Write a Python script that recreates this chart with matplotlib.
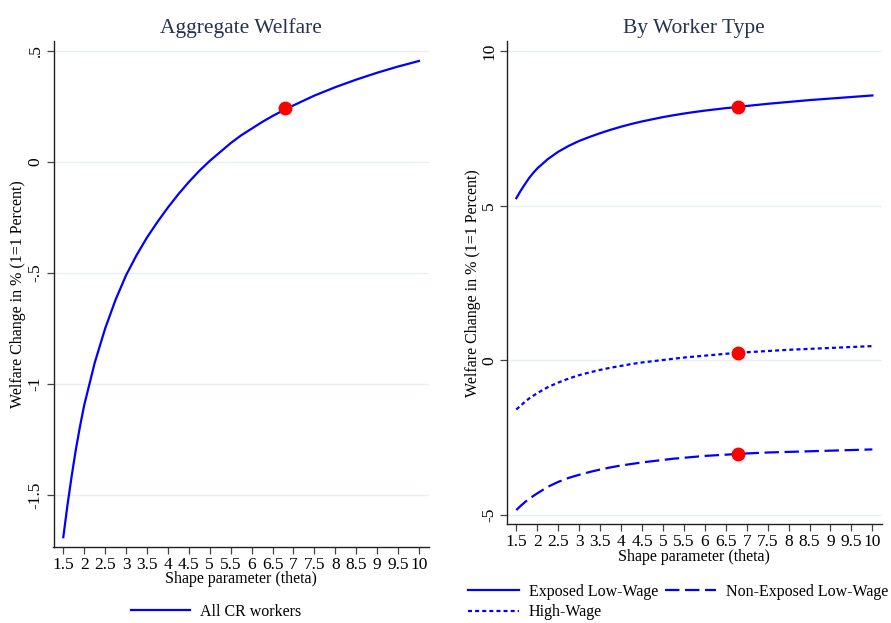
import matplotlib
matplotlib.use("Agg")
import matplotlib.pyplot as plt
from matplotlib.lines import Line2D

plt.rcParams['font.family'] = ['Liberation Serif', 'DejaVu Serif']

# Shape parameter grid (x values read at regular steps)
theta = [1.5, 1.6, 1.7, 1.8, 1.9, 2.0, 2.25, 2.5, 2.75, 3.0, 3.25, 3.5, 3.75,
         4.0, 4.25, 4.5, 4.75, 5.0, 5.25, 5.5, 5.75, 6.0, 6.25, 6.5, 6.75,
         7.0, 7.5, 8.0, 8.5, 9.0, 9.5, 10.0]

# Aggregate welfare (All CR workers)
agg = [-1.69, -1.545, -1.415, -1.295, -1.19, -1.095, -0.905, -0.75, -0.62,
       -0.51, -0.42, -0.34, -0.27, -0.205, -0.145, -0.09, -0.04, 0.005, 0.045,
       0.085, 0.12, 0.15, 0.18, 0.207, 0.232, 0.255, 0.299, 0.337, 0.371,
       0.402, 0.43, 0.455]

# By worker type
exposed = [5.24, 5.47, 5.68, 5.88, 6.05, 6.20, 6.50, 6.74, 6.93, 7.09, 7.22,
           7.34, 7.45, 7.55, 7.64, 7.72, 7.79, 7.86, 7.92, 7.975, 8.025, 8.07,
           8.11, 8.15, 8.18, 8.22, 8.29, 8.35, 8.41, 8.46, 8.51, 8.56]
non_exposed = [-4.84, -4.71, -4.59, -4.48, -4.39, -4.30, -4.09, -3.93, -3.80,
               -3.70, -3.61, -3.53, -3.46, -3.40, -3.35, -3.30, -3.26, -3.22,
               -3.18, -3.15, -3.12, -3.09, -3.07, -3.05, -3.03, -3.01, -2.98,
               -2.96, -2.94, -2.92, -2.90, -2.88]
high_wage = [-1.59, -1.47, -1.35, -1.24, -1.15, -1.06, -0.87, -0.72, -0.59,
             -0.48, -0.39, -0.31, -0.24, -0.18, -0.12, -0.07, -0.03, 0.01,
             0.05, 0.09, 0.12, 0.15, 0.18, 0.21, 0.24, 0.26, 0.30, 0.34, 0.37,
             0.40, 0.43, 0.46]

# Baseline markers
base_theta = 6.8
base_agg = 0.243
base_types = [8.18, 0.25, -3.04]

xticks = [1.5, 2, 2.5, 3, 3.5, 4, 4.5, 5, 5.5, 6, 6.5, 7, 7.5, 8, 8.5, 9,
          9.5, 10]
xticklabels = ['1.5', '2', '2.5', '3', '3.5', '4', '4.5', '5', '5.5', '6',
               '6.5', '7', '7.5', '8', '8.5', '9', '9.5', '10']
left_yticks = [-1.5, -1, -0.5, 0, 0.5]
left_yticklabels = ['-1.5', '-1', '-.5', '0', '.5']
right_yticks = [-5, 0, 5, 10]
right_yticklabels = ['-5', '0', '5', '10']

BLUE = '#0000ff'
RED = '#ff0000'
GRID = '#e9f1f2'
TITLE_C = '#27324f'
W, H = 891, 623

fig = plt.figure(figsize=(W / 100, H / 100), dpi=100)


def rect(l, t, r, b):
    return [l / W, 1 - b / H, (r - l) / W, (b - t) / H]


def style(ax, ylpad):
    for s in ['top', 'right']:
        ax.spines[s].set_visible(False)
    for s in ['left', 'bottom']:
        ax.spines[s].set_color('#222222')
        ax.spines[s].set_linewidth(1.0)
    ax.tick_params(axis='both', direction='out', length=5, width=0.9,
                   color='#444444', labelsize=12.5, pad=2)
    ax.yaxis.grid(True, color=GRID, linewidth=1.0)
    ax.set_axisbelow(True)
    ax.set_xticks(xticks)
    ax.set_xticklabels(xticklabels)
    ax.set_xlabel('Shape parameter (theta)', fontsize=11.5, labelpad=-1)
    ax.set_ylabel('Welfare Change in % (1=1 Percent)', fontsize=11.5,
                  labelpad=ylpad)
    for lab in ax.get_yticklabels():
        lab.set_rotation(90)
        lab.set_va('center')


# Left panel
ax1 = fig.add_axes(rect(53.5, 41, 429, 547))
ax1.plot(theta, agg, color=BLUE, lw=1.6, label='All CR workers')
ax1.plot([base_theta], [base_agg], 'o', color=RED, ms=9, zorder=5)
ax1.set_xlim(1.266, 10.24)
ax1.set_ylim(-1.734, 0.545)
ax1.set_yticks(left_yticks)
ax1.set_yticklabels(left_yticklabels)
style(ax1, 1)
ax1.set_title('Aggregate Welfare', fontsize=15.5, color=TITLE_C, pad=6)
fig.legend(handles=[Line2D([], [], color=BLUE, lw=1.6)],
           labels=['All CR workers'], loc='center',
           bbox_to_anchor=(216 / W, 1 - 612 / H), frameon=False,
           fontsize=11.5, handlelength=3.7, handletextpad=0.6)

# Right panel
ax2 = fig.add_axes(rect(506.7, 41, 882, 524.3))
l1, = ax2.plot(theta, exposed, color=BLUE, lw=1.6)
l2, = ax2.plot(theta, non_exposed, color=BLUE, lw=1.6,
               linestyle=(0, (6.5, 2.5)))
l3, = ax2.plot(theta, high_wage, color=BLUE, lw=1.6,
               linestyle=(0, (1.8, 1.4)))
ax2.plot([base_theta] * 3, base_types, 'o', color=RED, ms=9, zorder=5,
         linestyle='none')
ax2.set_xlim(1.271, 10.23)
ax2.set_ylim(-5.30, 10.32)
ax2.set_yticks(right_yticks)
ax2.set_yticklabels(right_yticklabels)
style(ax2, 0)
ax2.set_title('By Worker Type', fontsize=15.5, color=TITLE_C, pad=6)
fig.legend(handles=[l1, l3, l2],
           labels=['Exposed Low-Wage', 'High-Wage', 'Non-Exposed Low-Wage'],
           loc='center', ncol=2, bbox_to_anchor=(678 / W, 1 - 602 / H),
           frameon=False, fontsize=11.5, handlelength=3.2,
           handletextpad=0.6, columnspacing=0.45, labelspacing=0.3)

fig.savefig('out.png', dpi=100, facecolor='white')
